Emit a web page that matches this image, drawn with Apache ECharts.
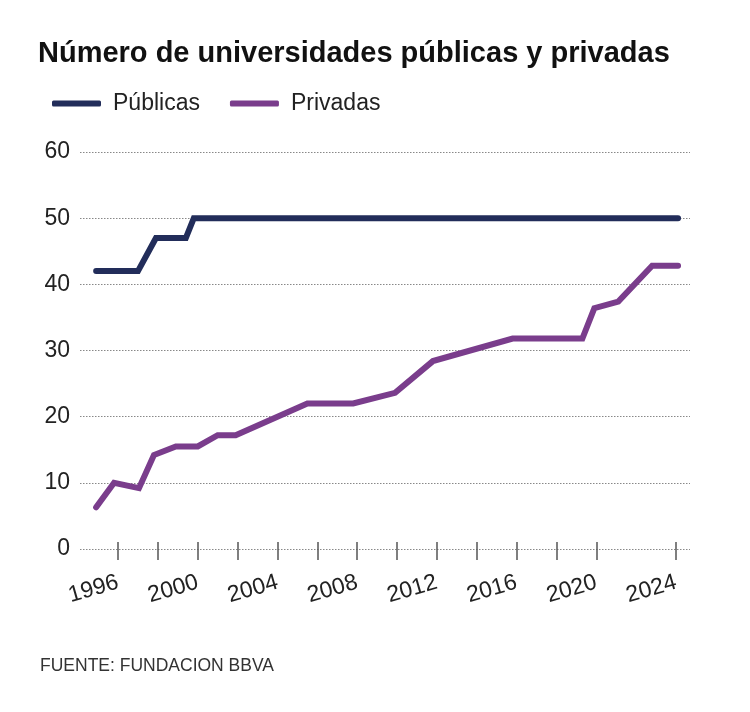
<!DOCTYPE html>
<html>
<head>
<meta charset="utf-8">
<script src="https://cdn.jsdelivr.net/npm/echarts@6/dist/echarts.min.js"></script>
<style>html,body{margin:0;padding:0;background:#fff}#c{width:750px;height:712px}</style>
</head>
<body>
<div id="c"></div>
<script>
const titleText = 'Número de universidades públicas y privadas';
const sourceText = 'FUENTE: FUNDACION BBVA';
const seriesNames = ['Públicas', 'Privadas'];
const publicasYears = [1994.9, 1997.0, 1997.9, 1999.4, 1999.8, 2024.1];
const publicasValues = [42, 42, 47, 47, 50, 50];
const privadasYears = [1994.9, 1995.8, 1997.05, 1997.8, 1998.9, 2000.0, 2001.0, 2001.9, 2005.5, 2007.8, 2009.9, 2011.8, 2015.8, 2019.3, 2019.9, 2021.1, 2022.8, 2024.1];
const privadasValues = [6.3, 10, 9.2, 14.2, 15.5, 15.5, 17.2, 17.2, 22, 22, 23.6, 28.4, 31.8, 31.8, 36.4, 37.4, 42.8, 42.8];
const tickYears = [1996, 1998, 2000, 2002, 2004, 2006, 2008, 2010, 2012, 2014, 2016, 2018, 2020, 2024];
const labelYears = [1996, 2000, 2004, 2008, 2012, 2016, 2020, 2024];
const colors = ['#222d5a', '#7a3d8c'];

const zip = (a, b) => a.map((v, i) => [v, b[i]]);
const FONT = 'Liberation Sans';
const xCommon = {
  type: 'value', min: 1994.09, max: 2024.7, position: 'bottom',
  axisLine: { show: false }, splitLine: { show: false }
};
const chart = echarts.init(document.getElementById('c'));
chart.setOption({
  animation: false,
  title: {
    text: titleText, left: 33, top: 34,
    textStyle: { fontFamily: FONT, fontSize: 29, fontWeight: 'bold', color: '#111' }
  },
  legend: {
    left: 47, top: 87, itemWidth: 49, itemHeight: 6, itemGap: 30,
    icon: 'roundRect',
    textStyle: { fontFamily: FONT, fontSize: 23, color: '#222', padding: [0, 0, 0, 7] },
    data: seriesNames
  },
  grid: { left: 80, right: 60, top: 152, bottom: 163 },
  xAxis: [
    Object.assign({}, xCommon, {
      axisTick: { show: true, length: 11, lineStyle: { color: '#555', width: 1.5 }, customValues: tickYears },
      axisLabel: {
        customValues: labelYears, rotate: 16, margin: 33,
        fontFamily: FONT, fontSize: 23, color: '#222',
        formatter: v => String(v)
      }
    }),
    Object.assign({}, xCommon, {
      axisTick: { show: true, inside: true, length: 7, lineStyle: { color: '#555', width: 1.5 }, customValues: tickYears },
      axisLabel: { show: false }
    })
  ],
  yAxis: {
    type: 'value', min: 0, max: 60, interval: 10,
    axisLine: { show: false }, axisTick: { show: false },
    axisLabel: { margin: 10, fontFamily: FONT, fontSize: 23, color: '#222' },
    splitLine: { lineStyle: { color: '#888', type: [1.5, 1.5], width: 1 } }
  },
  series: [
    {
      name: seriesNames[0], type: 'line', data: zip(publicasYears, publicasValues),
      showSymbol: false, symbol: 'none', color: colors[0],
      lineStyle: { width: 6, color: colors[0], cap: 'round', join: 'miter' }
    },
    {
      name: seriesNames[1], type: 'line', data: zip(privadasYears, privadasValues),
      showSymbol: false, symbol: 'none', color: colors[1],
      lineStyle: { width: 6, color: colors[1], cap: 'round', join: 'miter' }
    }
  ],
  graphic: [{
    type: 'text', left: 40, top: 657,
    style: { text: sourceText, fontFamily: FONT, fontSize: 17.5, fill: '#333' }
  }]
});
</script>
</body>
</html>
